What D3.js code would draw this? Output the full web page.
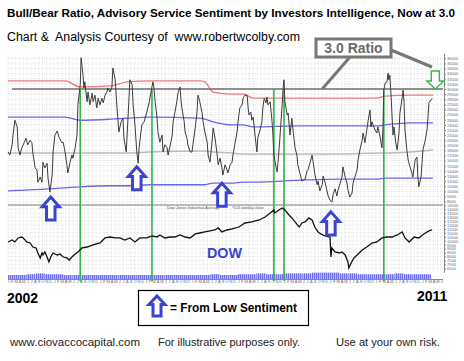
<!DOCTYPE html>
<html>
<head>
<meta charset="utf-8">
<script src="https://cdn.jsdelivr.net/npm/d3@7"></script>
<style>
  body { margin: 0; background: #fff; }
  svg { display: block; }
  text { font-family: Arial, "Liberation Sans", Helvetica, sans-serif; }
</style>
</head>
<body>
<svg id="chart" width="464" height="361"></svg>
<script>
// ---- data ----
// weekly-ish bull/bear ratio (decimal year, ratio)
var ratioDates = [2002.00,2002.04,2002.09,2002.11,2002.15,2002.20,2002.22,2002.26,2002.30,2002.35,2002.39,2002.43,2002.48,2002.52,2002.54,2002.59,2002.63,2002.65,2002.70,2002.74,2002.76,2002.80,2002.85,2002.87,2002.91,2002.96,2002.98,
  2003.02,2003.07,2003.11,2003.17,2003.20,2003.24,2003.28,2003.30,2003.35,2003.39,2003.41,2003.46,2003.50,2003.52,2003.57,2003.59,2003.63,2003.65,2003.67,2003.72,2003.74,2003.78,2003.83,2003.85,2003.89,2003.93,2003.96,
  2004.00,2004.04,2004.07,2004.11,2004.15,2004.17,2004.22,2004.26,2004.28,2004.33,2004.37,2004.41,2004.46,2004.50,2004.52,2004.57,2004.59,2004.63,2004.65,2004.70,2004.72,2004.76,2004.80,2004.83,2004.85,2004.89,2004.91,2004.96,
  2005.00,2005.02,2005.07,2005.11,2005.15,2005.17,2005.20,2005.24,2005.26,2005.30,2005.35,2005.37,2005.41,2005.46,2005.48,2005.52,2005.57,2005.59,2005.63,2005.67,2005.70,2005.74,2005.76,2005.78,2005.83,2005.85,2005.89,2005.91,2005.96,
  2006.00,2006.02,2006.07,2006.11,2006.13,2006.17,2006.22,2006.24,2006.28,2006.33,2006.35,2006.39,2006.43,2006.46,2006.50,2006.54,2006.57,2006.61,2006.65,2006.67,2006.72,2006.76,2006.78,2006.83,2006.87,2006.89,2006.93,2006.98,
  2007.00,2007.04,2007.09,2007.11,2007.15,2007.20,2007.22,2007.24,2007.28,2007.30,2007.33,2007.37,2007.41,2007.43,2007.48,2007.52,2007.54,2007.57,2007.61,2007.63,2007.65,2007.70,2007.74,2007.76,2007.78,2007.83,2007.85,2007.87,2007.91,2007.96,2007.98,
  2008.00,2008.02,2008.07,2008.09,2008.13,2008.17,2008.20,2008.24,2008.28,2008.30,2008.35,2008.39,2008.41,2008.46,2008.50,2008.52,2008.57,2008.61,2008.63,2008.67,2008.72,2008.74,2008.78,2008.83,2008.85,2008.89,2008.93,2008.96,
  2009.00,2009.04,2009.07,2009.11,2009.15,2009.17,2009.22,2009.26,2009.28,2009.33,2009.37,2009.39,2009.43,2009.48,2009.50,2009.54,2009.59,2009.61,2009.65,2009.70,2009.72,2009.76,2009.80,2009.83,2009.87,2009.89,2009.91,2009.96,2009.98,
  2010.02,2010.04,2010.09,2010.13,2010.15,2010.17,2010.20,2010.24,2010.26,2010.28,2010.30,2010.33,2010.35,2010.37,2010.39,2010.43,2010.46,2010.50,2010.52,2010.57,2010.59,2010.61,2010.63,2010.67,2010.70,2010.74,2010.78,2010.80,2010.85,2010.89,2010.91,2010.93,2010.98,
  2011.00,2011.02,2011.07,2011.11,2011.13,2011.15,2011.20,2011.22];
var ratioValues = [1.77,1.71,1.91,2.10,2.39,2.26,1.85,1.71,1.85,1.95,2.04,1.91,2.00,1.95,1.75,1.46,1.42,1.18,1.28,1.18,1.57,1.46,1.55,1.26,0.99,1.32,1.77,
  2.10,2.18,2.06,1.95,1.96,1.77,1.52,1.36,1.57,1.71,1.65,1.85,2.10,2.69,3.08,3.61,3.27,3.02,3.14,2.75,2.94,2.69,2.92,2.75,2.88,2.63,2.82,
  2.69,2.82,2.73,2.88,2.94,3.02,2.94,3.04,3.41,3.18,2.63,2.16,2.36,2.43,2.04,1.77,2.10,2.82,3.18,3.08,2.69,2.30,1.77,1.55,1.85,2.16,2.30,2.36,
  2.49,2.55,2.75,2.94,3.14,3.04,2.75,2.43,2.16,1.96,2.10,1.77,1.91,1.85,1.71,1.87,2.10,2.36,2.55,2.75,2.94,3.04,2.79,2.63,2.36,2.16,2.04,1.91,1.77,
  1.77,1.91,2.24,2.55,2.88,2.75,2.53,2.36,2.16,1.96,1.71,1.57,1.91,2.24,2.04,1.77,1.52,1.65,1.46,1.32,1.52,1.42,1.36,1.52,1.57,1.71,1.91,2.16,
  2.36,2.63,2.69,2.82,2.88,2.88,2.63,2.49,2.55,2.39,2.45,2.10,1.77,2.04,2.20,2.36,2.63,2.82,2.73,2.84,2.69,2.75,2.36,2.10,1.71,1.46,1.38,1.57,2.04,2.69,3.02,
  3.18,2.75,2.49,2.53,2.10,2.43,2.16,1.85,1.71,1.52,1.34,1.20,1.22,1.24,1.40,1.42,1.57,1.71,1.59,1.34,1.13,1.20,1.01,1.13,1.30,1.18,1.03,0.91,
  0.83,0.79,0.95,1.05,0.91,1.01,1.16,1.28,1.48,1.28,1.16,1.03,0.89,0.97,1.16,1.28,1.42,1.61,1.81,2.00,2.14,1.95,2.20,2.39,2.59,2.26,2.36,2.24,2.20,
  2.14,2.26,2.06,1.85,2.20,2.98,3.12,3.14,3.31,3.18,3.27,2.84,2.45,2.10,2.26,1.95,1.81,2.14,2.53,2.84,2.98,2.73,2.20,1.81,1.61,1.48,1.36,1.28,1.61,1.67,1.28,1.09,1.28,
  1.55,1.81,2.00,2.20,2.45,2.73,2.79,2.82];

// statistical bands drawn on the ratio panel
var bandDates  = [2002.00,2003.24,2003.57,2004.22,2004.59,2005.09,2006.17,2006.28,2006.46,2006.87,2007.11,2007.33,2008.35,2009.22,2010.02,2010.20,2010.74,2011.24];
var bandUpper2 = [3.16,3.16,3.04,3.06,3.14,3.16,3.16,3.14,2.94,2.90,2.90,2.82,2.82,2.82,2.82,2.86,2.88,2.88];
var bandUpper1 = [2.45,2.45,2.39,2.41,2.43,2.45,2.43,2.41,2.36,2.30,2.30,2.26,2.28,2.28,2.28,2.30,2.34,2.34];
var bandMean   = [1.75,1.75,1.75,1.75,1.75,1.77,1.79,1.79,1.77,1.75,1.73,1.73,1.73,1.73,1.75,1.75,1.77,1.81];
var bandLower1 = [1.01,1.07,1.09,1.11,1.11,1.13,1.13,1.13,1.16,1.16,1.18,1.18,1.22,1.24,1.24,1.26,1.26,1.26];

var signalLevel = 3.0;
var signalDates = [2003.57, 2005.13, 2007.78, 2008.00, 2010.17];
var lowSentimentDates = [2002.93, 2004.80, 2006.65, 2009.02];
var lowSentimentTips  = [0.89, 1.48, 1.16, 0.60];

// Dow Jones Industrial Average
var dowDates = [2002.00,2002.09,2002.15,2002.22,2002.30,2002.33,2002.41,2002.48,2002.54,2002.61,2002.65,2002.70,2002.74,2002.76,2002.80,2002.85,2002.89,2002.93,2002.98,
  2003.07,2003.13,2003.20,2003.28,2003.33,2003.39,2003.46,2003.52,2003.61,2003.72,2003.85,2004.00,2004.11,2004.22,2004.33,2004.43,2004.54,2004.65,2004.76,2004.87,
  2005.02,2005.13,2005.24,2005.30,2005.41,2005.52,2005.63,2005.74,2005.85,2005.96,2006.07,2006.17,2006.28,2006.39,2006.50,2006.57,2006.65,2006.76,2006.87,
  2007.02,2007.15,2007.30,2007.46,2007.59,2007.70,2007.78,2007.80,2007.89,2007.96,2008.02,2008.11,2008.17,2008.24,2008.33,2008.39,2008.46,2008.54,2008.61,2008.67,2008.74,2008.80,2008.89,
  2009.00,2009.02,2009.04,2009.11,2009.20,2009.26,2009.33,2009.39,2009.41,2009.46,2009.52,2009.59,2009.70,2009.80,2009.91,2010.02,2010.13,2010.24,2010.35,2010.46,2010.57,2010.63,2010.72,2010.83,2010.93,
  2011.04,2011.15,2011.22];
var dowValues = [9850,10100,9850,10360,10480,10360,9850,9720,9210,9090,8450,7820,8450,8200,8580,7940,7310,7940,8450,
  8200,8330,7940,7820,7560,7940,8330,8580,9090,9210,9470,9720,10360,10480,10360,10360,10100,10360,9850,10360,
  10360,10610,10480,10740,10360,10480,10480,10740,10480,10360,10870,10990,11120,11250,11370,11630,11120,11370,11500,
  11750,12260,12390,12640,13020,13530,13910,13530,13910,14170,13910,13280,12900,12390,11750,12260,12390,12900,12640,11750,11120,10870,10610,
  10480,7940,9090,8580,8450,8580,8200,7310,6550,7180,7820,8200,8830,9210,9720,9850,10360,10480,10480,10740,11120,10360,9850,10480,10360,
  10870,11250,11370];

// volume (relative), one value every 0.2 year from 2002
var volumeStart = 2002.0, volumeStep = 0.2;
var dowVolume = [5,5,6,7,6, 6,5,5,5,5, 5,5,5,5,5, 5,5,5,5,5, 5,5,6,5,5, 6,6,7,6,6, 7,7,7,8,8, 8,7,7,6,6, 6,6,7,6,6, 6];

var monthLetters = ['J','F','M','A','M','J','J','A','S','O','N','D'];

// ---- layout ----
var svg = d3.select('#chart');
var left = 8, right = 443, upperTop = 57, split = 205, lowerBottom = 272;

var x = d3.scaleLinear().domain([2002, 2011.5]).range([8, 445]);
var yRatio = d3.scaleLinear().domain([0.7, 3.7]).range([206.76, 53.16]);
var yDow = d3.scaleLinear().domain([6000, 15000]).range([272.3, 201.4]);
var yVol = d3.scaleLinear().domain([0, 10]).range([279, 271]);

var defs = svg.append('defs');
var pat = defs.append('pattern').attr('id', 'vstripe').attr('patternUnits', 'userSpaceOnUse')
  .attr('width', 2).attr('height', 4);
pat.append('rect').attr('width', 2).attr('height', 4).attr('fill', '#c9c9f3');
pat.append('rect').attr('width', 1.2).attr('height', 4).attr('fill', '#6f6fe6');

// dotted grid
var grid = svg.append('g').attr('stroke', '#cdcdcd').attr('stroke-width', 0.7).attr('stroke-dasharray', '0.8,1.6');
var months = d3.range(0, 114).map(function(m) { return 2002 + m / 12; }).filter(function(d) { return x(d) <= right; });
grid.selectAll('line.v').data(months).enter().append('line').attr('class', 'v')
  .attr('x1', function(d) { return x(d); }).attr('x2', function(d) { return x(d); })
  .attr('y1', upperTop).attr('y2', lowerBottom);
var ratioTicks = d3.range(8, 37).map(function(v) { return v / 10; });
grid.selectAll('line.hr').data(ratioTicks).enter().append('line').attr('class', 'hr')
  .attr('x1', left).attr('x2', right)
  .attr('y1', function(d) { return yRatio(d); }).attr('y2', function(d) { return yRatio(d); });
var dowTicks = d3.range(6500, 14600, 500);
grid.selectAll('line.hd').data(dowTicks).enter().append('line').attr('class', 'hd')
  .attr('x1', left).attr('x2', right)
  .attr('y1', function(d) { return yDow(d); }).attr('y2', function(d) { return yDow(d); });

// bands
function band(values, color, width) {
  var line = d3.line()
    .x(function(d, i) { return x(bandDates[i]); })
    .y(function(d) { return yRatio(d); })
    .curve(d3.curveMonotoneX);
  svg.append('path').datum(values).attr('d', line)
    .attr('fill', 'none').attr('stroke', color).attr('stroke-width', width);
}
band(bandUpper2, '#f07a7a', 1.3);
band(bandUpper1, '#6868ee', 1.3);
band(bandMean, '#bcbcbc', 1.5);
band(bandLower1, '#6868ee', 1.3);

// 3.0 level and panel split
svg.append('line').attr('x1', 12).attr('x2', right)
  .attr('y1', yRatio(signalLevel)).attr('y2', yRatio(signalLevel))
  .attr('stroke', '#6e6e6e').attr('stroke-width', 1.5);
svg.append('line').attr('x1', left).attr('x2', right).attr('y1', split).attr('y2', split)
  .attr('stroke', '#808080').attr('stroke-width', 1.2);

// volume
svg.append('g').selectAll('rect').data(dowVolume).enter().append('rect')
  .attr('x', function(d, i) { return x(volumeStart + i * volumeStep); })
  .attr('width', function(d, i) { return Math.min(x(volumeStart + (i + 1) * volumeStep), right) - x(volumeStart + i * volumeStep); })
  .attr('y', function(d) { return yVol(d); })
  .attr('height', function(d) { return yVol(0) - yVol(d); })
  .attr('fill', 'url(#vstripe)');

// green signal lines
svg.append('g').selectAll('line').data(signalDates).enter().append('line')
  .attr('x1', function(d) { return x(d); }).attr('x2', function(d) { return x(d); })
  .attr('y1', yRatio(signalLevel)).attr('y2', 281)
  .attr('stroke', '#2fb34a').attr('stroke-width', 1.6);

// ratio line
var ratioLine = d3.line()
  .x(function(d, i) { return x(ratioDates[i]); })
  .y(function(d) { return yRatio(d); });
svg.append('path').datum(ratioValues).attr('d', ratioLine)
  .attr('fill', 'none').attr('stroke', '#3c3c3c').attr('stroke-width', 1);

// dow line
var dowLine = d3.line()
  .x(function(d, i) { return x(dowDates[i]); })
  .y(function(d) { return yDow(d); });
svg.append('path').datum(dowValues).attr('d', dowLine)
  .attr('fill', 'none').attr('stroke', '#111').attr('stroke-width', 1.3);

// right axis
var axisG = svg.append('g').attr('transform', 'translate(444,0)');
axisG.append('g').call(d3.axisRight(yRatio).tickValues(ratioTicks).tickSize(2).tickSizeOuter(0)
    .tickFormat(function(d) { return d3.format('d')(Math.round(d * 10000)); }));
axisG.append('g').call(d3.axisRight(yDow).tickValues(dowTicks).tickSize(2).tickSizeOuter(0)
    .tickFormat(d3.format('d')));
axisG.selectAll('text').attr('font-size', 4).attr('fill', '#666').attr('x', 3);
axisG.selectAll('path,line').attr('stroke', '#888');

// bottom month axis
var bottomAxis = svg.append('g').attr('transform', 'translate(0,279.5)')
  .call(d3.axisBottom(x).tickValues(months).tickSize(0)
    .tickFormat(function(d) { return monthLetters[Math.round((d - 2002) * 12) % 12]; }));
bottomAxis.select('.domain').attr('stroke', '#888').attr('d', 'M' + left + ',0H' + right);
bottomAxis.selectAll('text').attr('font-size', 4).attr('fill', '#667').attr('dy', '0.55em').attr('y', 1);

// arrows
function upArrow(cx, tip, w, h) {
  var hw = w / 2, sw = w / 4, hh = h * 0.42;
  return 'M' + cx + ',' + tip + 'L' + (cx + hw) + ',' + (tip + hh) + 'L' + (cx + sw) + ',' + (tip + hh) +
    'L' + (cx + sw) + ',' + (tip + h) + 'L' + (cx - sw) + ',' + (tip + h) + 'L' + (cx - sw) + ',' + (tip + hh) +
    'L' + (cx - hw) + ',' + (tip + hh) + 'Z';
}
svg.append('g').selectAll('path').data(lowSentimentDates).enter().append('path')
  .attr('d', function(d, i) { return upArrow(x(d), yRatio(lowSentimentTips[i]), 17, 23); })
  .attr('fill', '#fff').attr('stroke', '#3b44cf').attr('stroke-width', 3).attr('stroke-linejoin', 'miter');

// green down arrow at the current reading
var gx = x(2011.29), gy = yRatio(signalLevel);
svg.append('path')
  .attr('d', 'M' + gx + ',' + gy + 'L' + (gx + 8.5) + ',' + (gy - 8) + 'L' + (gx + 4) + ',' + (gy - 8) +
    'L' + (gx + 4) + ',' + (gy - 18) + 'L' + (gx - 4) + ',' + (gy - 18) + 'L' + (gx - 4) + ',' + (gy - 8) +
    'L' + (gx - 8.5) + ',' + (gy - 8) + 'Z')
  .attr('fill', '#fff').attr('stroke', '#39b54a').attr('stroke-width', 1.4);

// 3.0 Ratio callout
var call = svg.append('g').attr('stroke', '#777').attr('stroke-width', 3);
call.append('line').attr('x1', 350).attr('y1', 57).attr('x2', x(2008.83)).attr('y2', yRatio(signalLevel));
call.append('line').attr('x1', 391).attr('y1', 50).attr('x2', 432).attr('y2', 67);
call.append('rect').attr('x', 316).attr('y', 39).attr('width', 75).attr('height', 18).attr('fill', '#fff');
svg.append('text').attr('x', 353.5).attr('y', 53).attr('text-anchor', 'middle')
  .attr('font-size', 14).attr('font-weight', 'bold').attr('fill', '#6a6a6a').text('3.0 Ratio');

// small panel captions
svg.append('text').attr('x', 167).attr('y', 209).attr('font-size', 4).attr('fill', '#555').text('Dow Jones Industrial Average');
svg.append('text').attr('x', 232).attr('y', 209).attr('font-size', 4).attr('fill', '#555').text('^DJI weekly close');

// DOW label
svg.append('text').attr('x', 207).attr('y', 258).attr('font-size', 15).attr('font-weight', 'bold')
  .attr('fill', '#3b44cf').attr('textLength', 35).attr('lengthAdjust', 'spacingAndGlyphs').text('DOW');

// titles
svg.append('text').attr('x', 7).attr('y', 17).attr('font-size', 11).attr('font-weight', 'bold')
  .attr('textLength', 448).attr('lengthAdjust', 'spacingAndGlyphs')
  .text('Bull/Bear Ratio, Advisory Service Sentiment by Investors Intelligence, Now at 3.0');
svg.append('text').attr('x', 7).attr('y', 41).attr('font-size', 12)
  .attr('textLength', 293).attr('lengthAdjust', 'spacingAndGlyphs').attr('xml:space', 'preserve')
  .text('Chart &  Analysis Courtesy of  www.robertwcolby.com');

// years
svg.append('text').attr('x', 7).attr('y', 303).attr('font-size', 14).attr('font-weight', 'bold').text('2002');
svg.append('text').attr('x', 417).attr('y', 301).attr('font-size', 14).attr('font-weight', 'bold').text('2011');

// legend
svg.append('rect').attr('x', 138.5).attr('y', 290.5).attr('width', 170).attr('height', 35)
  .attr('fill', '#fff').attr('stroke', '#000').attr('stroke-width', 1.2);
svg.append('path').attr('d', upArrow(157, 296, 16, 20))
  .attr('fill', '#fff').attr('stroke', '#3b44cf').attr('stroke-width', 3);
svg.append('text').attr('x', 170).attr('y', 312).attr('font-size', 12).attr('font-weight', 'bold')
  .attr('textLength', 127).attr('lengthAdjust', 'spacingAndGlyphs').text('= From Low Sentiment');

// footer
var foot = svg.append('g').attr('font-size', 11).attr('fill', '#222');
foot.append('text').attr('x', 10).attr('y', 346).attr('textLength', 130).attr('lengthAdjust', 'spacingAndGlyphs').text('www.ciovaccocapital.com');
foot.append('text').attr('x', 158).attr('y', 346).attr('textLength', 142).attr('lengthAdjust', 'spacingAndGlyphs').text('For illustrative purposes only.');
foot.append('text').attr('x', 336).attr('y', 346).attr('textLength', 104).attr('lengthAdjust', 'spacingAndGlyphs').text('Use at your own risk.');
</script>
</body>
</html>
